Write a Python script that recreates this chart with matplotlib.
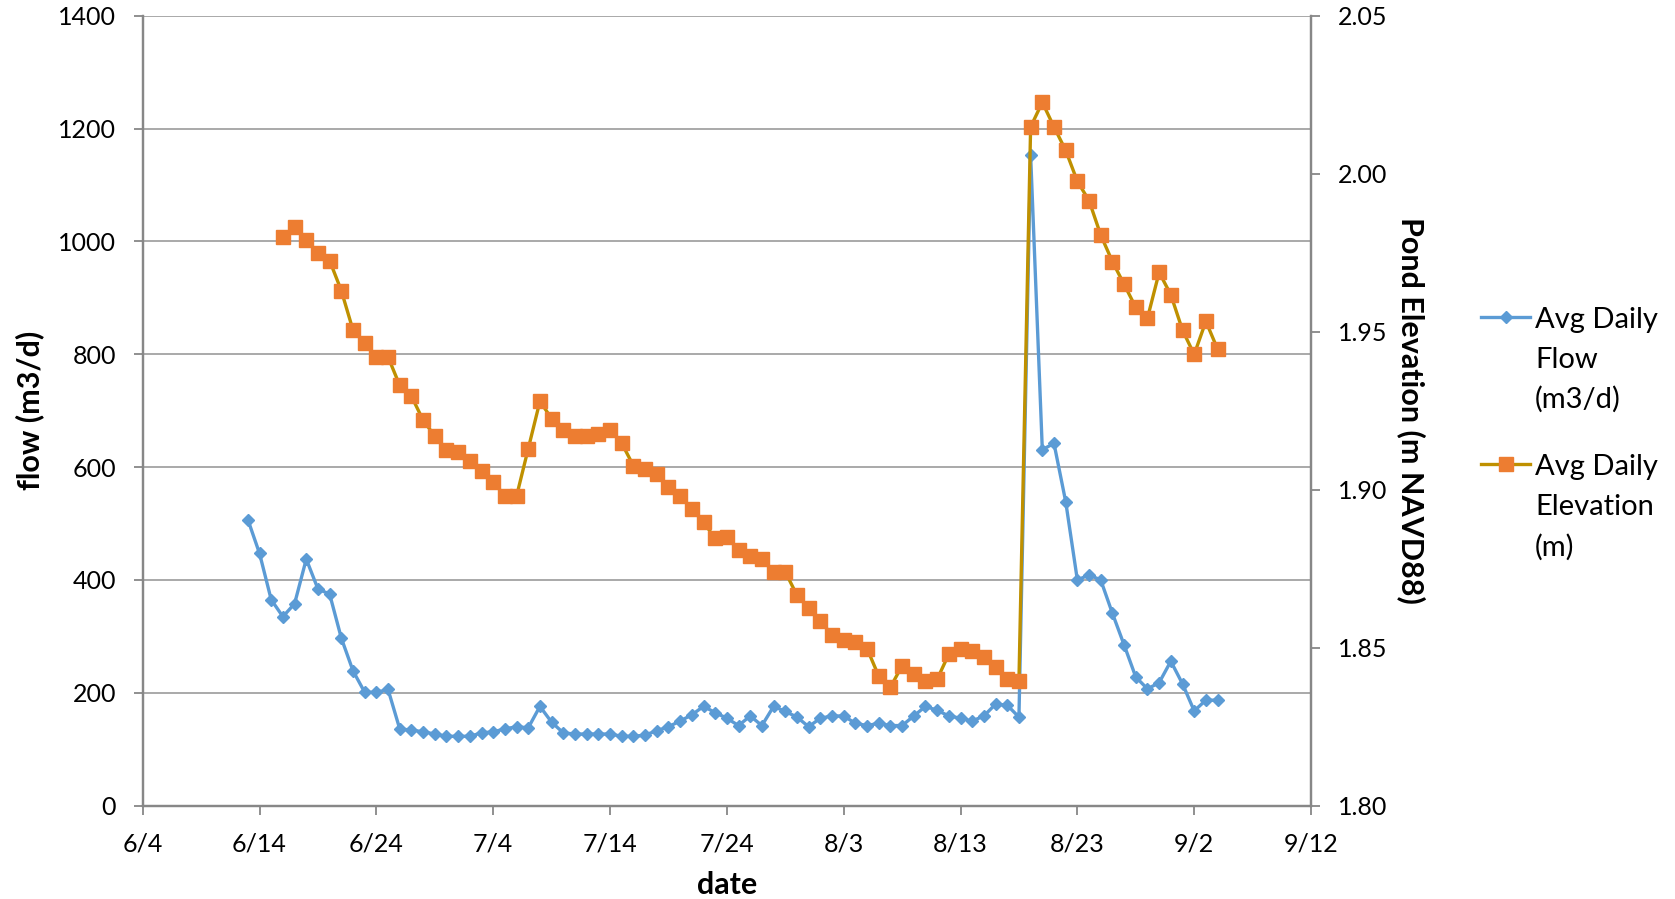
import matplotlib.pyplot as plt
import pandas as pd
from matplotlib.lines import Line2D

plt.rcParams['font.family'] = ['Lato', 'DejaVu Sans']

# ---- data (one value per day)
flow_start = '2015-06-13'
flow = [507, 447, 365, 335, 358, 437, 384, 375, 297, 239, 201, 201, 206,
        136, 134, 131, 127, 123, 123, 123, 129, 131, 136, 140, 138, 176,
        148, 129, 127, 127, 127, 127, 123, 123, 125, 133, 140, 150, 161,
        176, 165, 155, 142, 159, 142, 176, 167, 157, 140, 155, 159, 159,
        146, 142, 146, 142, 142, 159, 176, 169, 159, 155, 150, 159, 180,
        178, 157, 1153, 631, 642, 539, 400, 409, 400, 341, 285, 228, 207,
        218, 256, 216, 168, 187, 187]

elev_start = '2015-06-16'
elev = [1.980, 1.983, 1.979, 1.975, 1.9725, 1.963, 1.9505, 1.9465, 1.942,
        1.942, 1.933, 1.9296, 1.922, 1.917, 1.9127, 1.912, 1.909, 1.906,
        1.9025, 1.898, 1.898, 1.913, 1.928, 1.9225, 1.919, 1.917, 1.917,
        1.9177, 1.919, 1.9147, 1.9076, 1.9066, 1.905, 1.9008, 1.898, 1.894,
        1.8897, 1.8846, 1.885, 1.881, 1.879, 1.878, 1.874, 1.874, 1.8666,
        1.8626, 1.8585, 1.854, 1.8524, 1.8518, 1.8497, 1.841, 1.8375, 1.8443,
        1.8416, 1.8396, 1.840, 1.848, 1.8497, 1.849, 1.847, 1.844, 1.840,
        1.8396, 2.0148, 2.0226, 2.0148, 2.0074, 1.9976, 1.9915, 1.9806,
        1.9722, 1.965, 1.9577, 1.9543, 1.9688, 1.9617, 1.9505, 1.9428,
        1.9533, 1.9445]

legend_labels = [['Avg Daily', 'Flow', '(m3/d)'],
                 ['Avg Daily', 'Elevation', '(m)']]

flow_dates = pd.date_range(flow_start, periods=len(flow), freq='D')
elev_dates = pd.date_range(elev_start, periods=len(elev), freq='D')

W, H = 1675, 899
spine_c = '#878787'
grid_c = '#a3a3a3'

fig = plt.figure(figsize=(W / 100, H / 100), dpi=100)
ax = fig.add_axes([0.0852, 0.1038, 0.6975, 0.8787])
ax2 = ax.twinx()

l1, = ax.plot(flow_dates, flow, color='#5B9BD5', lw=2.4, marker='D',
              ms=6.5, mfc='#5B9BD5', mec='#5B9BD5')
l2, = ax2.plot(elev_dates, elev, color='#BF9000', lw=2.4, marker='s',
               ms=9.5, mfc='#ED7D31', mec='#ED7D31')

#---- axes
ax.set_xlim(pd.Timestamp('2015-06-04'), pd.Timestamp('2015-09-12'))
ax.set_ylim(0, 1400)
ax.set_yticks(range(0, 1401, 200))
ax2.set_ylim(1.80, 2.05)
ax2.set_yticks([1.80, 1.85, 1.90, 1.95, 2.00, 2.05])
ax2.yaxis.set_major_formatter(plt.FuncFormatter(lambda v, p: f'{v:.2f}'))

ticks = pd.date_range('2015-06-04', '2015-09-12', freq='10D')
ax.set_xticks(ticks)
ax.set_xticklabels([f'{d.month}/{d.day}' for d in ticks])

ax.grid(axis='y', color=grid_c, lw=1.3)
ax.set_axisbelow(True)
for a in (ax, ax2):
    for s in a.spines.values():
        s.set_color(spine_c)
        s.set_linewidth(1.6)
    a.spines['top'].set_visible(False)
    a.tick_params(colors=spine_c, labelcolor='black', labelsize=18,
                  length=6.3, width=1.3, pad=13)

ax.set_xlabel('date', fontsize=22, fontweight='bold', labelpad=11)
ax.set_ylabel('flow (m3/d)', fontsize=22, fontweight='bold', labelpad=10)
ax2.set_ylabel('Pond Elevation (m NAVD88)', fontsize=22, fontweight='bold',
               rotation=270, labelpad=7)
ax2.yaxis.label.set_verticalalignment('bottom')

#---- legend drawn by hand so the key sits on the first text line
for line, rows, y0 in zip([l1, l2], legend_labels, [316.7, 464.3]):
    fig.add_artist(Line2D([1481 / W, 1505.5 / W, 1530 / W], [1 - y0 / H] * 3,
                          transform=fig.transFigure, color=line.get_color(),
                          lw=line.get_linewidth(), marker=line.get_marker(),
                          markevery=[1], ms=line.get_markersize(),
                          mfc=line.get_markerfacecolor(),
                          mec=line.get_markeredgecolor()))
    for k, row in enumerate(rows):
        fig.text(1535 / W, 1 - (y0 + 11 + 40 * k) / H, row, fontsize=21,
                 va='baseline')

fig.savefig('out.png', dpi=100)
